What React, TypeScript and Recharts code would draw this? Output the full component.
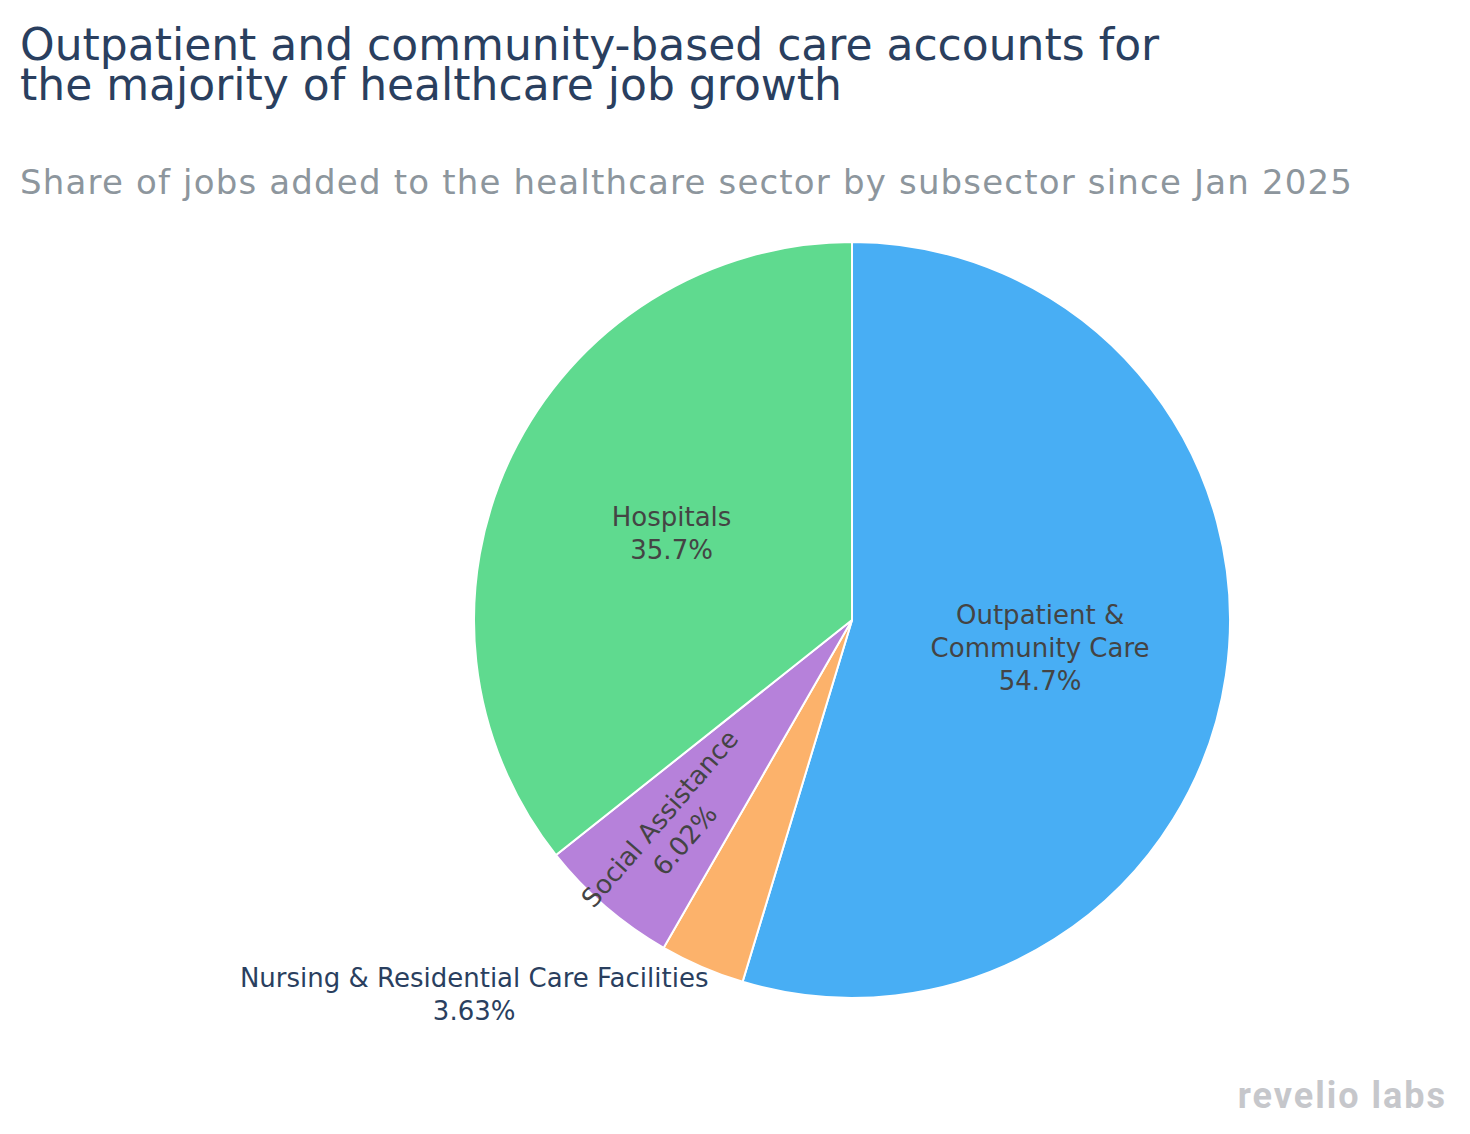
import React from "react";
import { PieChart, Pie, Cell } from "recharts";

const categories = [
  "Outpatient & Community Care",
  "Nursing & Residential Care Facilities",
  "Social Assistance",
  "Hospitals",
];
const shares = [54.7, 3.63, 6.02, 35.7];
const labelLines = [
  ["Outpatient &", "Community Care"],
  ["Nursing & Residential Care Facilities"],
  ["Social Assistance"],
  ["Hospitals"],
];
const colors = ["#48aef4", "#fcb26b", "#b681da", "#5fda8f"];
const titleLines = [
  "Outpatient and community-based care accounts for",
  "the majority of healthcare job growth",
];
const subtitle =
  "Share of jobs added to the healthcare sector by subsector since Jan 2025";

const data = categories.map((name, i) => ({ name, value: shares[i] }));

const W = 1470;
const H = 1134;
const CX = 852;
const CY = 620;
const R = 378;
const RAD = Math.PI / 180;
const FONT = "'DejaVu Sans', Verdana, sans-serif";
const LABEL_SIZE = 26;
const LH = 33;

const renderLabel = (props: any) => {
  const { cx, cy, midAngle, outerRadius, index } = props;
  const lines = [...labelLines[index], `${shares[index]}%`];
  const cos = Math.cos(-midAngle * RAD);
  const sin = Math.sin(-midAngle * RAD);
  if (index === 1) {
    // outside label
    const px = cx + outerRadius * cos + 4;
    const py = cy + outerRadius * sin + 20;
    return (
      <text
        x={px - 232}
        y={py}
        textAnchor="middle"
        fill="#2a3f5f"
        fontFamily={FONT}
        fontSize={LABEL_SIZE}
      >
        {lines.map((l, k) => (
          <tspan key={k} x={px - 232} dy={k === 0 ? 0 : LH}>
            {l}
          </tspan>
        ))}
      </text>
    );
  }
  const ratio = index === 2 ? 0.73 : index === 3 ? 0.53 : 0.503;
  const x = cx + outerRadius * ratio * cos;
  const y = cy + outerRadius * ratio * sin;
  const n = lines.length;
  const startDy = -((n - 1) * LH) / 2 + LABEL_SIZE * 0.36;
  let transform: string | undefined;
  if (index === 2) {
    // radial orientation
    const ang = Math.atan2(-sin, -cos) / RAD;
    transform = `rotate(${ang} ${x} ${y})`;
  }
  return (
    <text
      x={x}
      y={y}
      textAnchor="middle"
      fill="#444444"
      fontFamily={FONT}
      fontSize={LABEL_SIZE}
      transform={transform}
    >
      {lines.map((l, k) => (
        <tspan key={k} x={x} dy={k === 0 ? startDy : LH}>
          {l}
        </tspan>
      ))}
    </text>
  );
};

export default function App() {
  return (
    <div
      style={{
        position: "absolute",
        left: 0,
        top: 0,
        width: W,
        height: H,
        background: "#ffffff",
      }}
    >
      <PieChart width={W} height={H} margin={{ top: 0, right: 0, bottom: 0, left: 0 }}>
        <Pie
          data={data}
          dataKey="value"
          nameKey="name"
          cx={CX}
          cy={CY}
          outerRadius={R}
          innerRadius={0}
          startAngle={90}
          endAngle={-270}
          stroke="#ffffff"
          strokeWidth={2}
          label={renderLabel}
          labelLine={false}
          isAnimationActive={false}
        >
          {data.map((d, i) => (
            <Cell key={d.name} fill={colors[i]} />
          ))}
        </Pie>
      </PieChart>
      <svg
        width={W}
        height={H}
        style={{ position: "absolute", left: 0, top: 0, pointerEvents: "none" }}
      >
        <text x={20} y={60} fontFamily={FONT} fontSize={44} fill="#2a3f5f">
          {titleLines.map((l, k) => (
            <tspan key={k} x={20} dy={k === 0 ? 0 : 40}>
              {l}
            </tspan>
          ))}
        </text>
        <text
          x={20}
          y={194}
          fontFamily={FONT}
          fontSize={34}
          fill="#8d969d"
          textLength={1332}
          lengthAdjust="spacing"
        >
          {subtitle}
        </text>
        <text
          x={1447}
          y={1108}
          textAnchor="end"
          fontFamily="Roboto, 'Noto Sans', sans-serif"
          fontWeight={700}
          fontSize={36}
          letterSpacing={2}
          fill="#c6c7cb"
        >
          revelio labs
        </text>
      </svg>
    </div>
  );
}
